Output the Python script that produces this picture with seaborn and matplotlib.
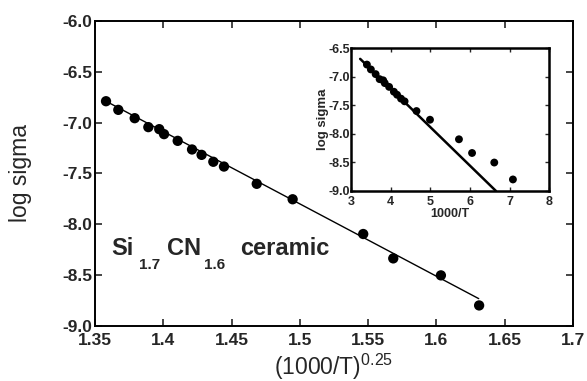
import pandas as pd
import matplotlib
matplotlib.use('Agg')
import matplotlib.pyplot as plt
import seaborn as sns

# values
x_main = [1.358, 1.367, 1.379, 1.389, 1.397, 1.4005, 1.4105, 1.421, 1.428, 1.4366,
          1.4444, 1.4684, 1.4947, 1.5464, 1.5684, 1.6033, 1.6313]
log_sigma = [-6.79, -6.875, -6.957, -7.045, -7.065, -7.114, -7.18, -7.265, -7.318,
             -7.386, -7.433, -7.603, -7.755, -8.097, -8.337, -8.504, -8.80]
fit_main_x = [1.358, 1.631]
fit_main_y = [-6.79, -8.733]

x_inset = [3.40, 3.50, 3.62, 3.72, 3.81, 3.85, 3.96, 4.08, 4.16, 4.26,
           4.35, 4.65, 4.99, 5.72, 6.05, 6.61, 7.08]
fit_inset_x = [3.23, 6.65]
fit_inset_y = [-6.69, -9.0]

main_xticks = [1.35, 1.4, 1.45, 1.5, 1.55, 1.6, 1.65, 1.7]
main_xlabels = ['1.35', '1.4', '1.45', '1.5', '1.55', '1.6', '1.65', '1.7']
main_yticks = [-6.0, -6.5, -7.0, -7.5, -8.0, -8.5, -9.0]
inset_xticks = [3, 4, 5, 6, 7, 8]
inset_yticks = [-6.5, -7.0, -7.5, -8.0, -8.5, -9.0]

df = pd.DataFrame({'x': x_main, 'y': log_sigma, 'xi': x_inset})
fit_m = pd.DataFrame({'x': fit_main_x, 'y': fit_main_y})
fit_i = pd.DataFrame({'x': fit_inset_x, 'y': fit_inset_y})

sns.set_style('ticks')
plt.rcParams['font.family'] = ['Liberation Sans', 'DejaVu Sans']
plt.rcParams['mathtext.fontset'] = 'custom'
plt.rcParams['mathtext.rm'] = 'Liberation Sans'

fig = plt.figure(figsize=(5.87, 3.81), dpi=100)
ax = fig.add_axes([0.162, 0.145, 0.814, 0.80])

sns.lineplot(data=fit_m, x='x', y='y', ax=ax, color='black', lw=1.0)
sns.scatterplot(data=df, x='x', y='y', ax=ax, color='black', s=55, edgecolor='none')

ax.set_xlim(1.35, 1.7)
ax.set_ylim(-9.0, -6.0)
ax.set_xticks(main_xticks)
ax.set_xticklabels(main_xlabels)
ax.set_yticks(main_yticks)
ax.set_yticklabels([f'{v:.1f}' for v in main_yticks])
ax.tick_params(direction='in', top=True, right=True, length=5, width=1.2,
               labelsize=12.5)
ax.tick_params(axis='x', pad=5)
ax.tick_params(axis='y', pad=2)
for lab in ax.get_xticklabels() + ax.get_yticklabels():
    lab.set_fontweight('bold')
for sp in ax.spines.values():
    sp.set_linewidth(1.4)
    sp.set_color('black')
ax.set_xlabel(r'(1000/T)$^{\mathrm{0.25}}$', fontsize=16.5, labelpad=3)
ax.set_ylabel('log sigma', fontsize=16.5, labelpad=22)

# compound label
ax.text(1.3622, -8.30, 'Si', fontsize=17, fontweight='bold', va='baseline')
ax.text(1.3824, -8.44, '1.7', fontsize=11, fontweight='bold', va='baseline')
ax.text(1.4025, -8.30, 'CN', fontsize=17, fontweight='bold', va='baseline')
ax.text(1.4298, -8.44, '1.6', fontsize=11, fontweight='bold', va='baseline')
ax.text(1.4561, -8.30, 'ceramic', fontsize=17, fontweight='bold', va='baseline')

# inset
ins = fig.add_axes([0.598, 0.499, 0.338, 0.375])
sns.lineplot(data=fit_i, x='x', y='y', ax=ins, color='black', lw=1.8)
sns.scatterplot(data=df, x='xi', y='y', ax=ins, color='black', s=32, edgecolor='none')
ins.set_xlim(3, 8)
ins.set_ylim(-9.0, -6.5)
ins.set_xticks(inset_xticks)
ins.set_yticks(inset_yticks)
ins.set_yticklabels([f'{v:.1f}' for v in inset_yticks])
ins.tick_params(direction='in', top=True, right=True, length=3, width=1.0,
                labelsize=9)
ins.tick_params(axis='x', pad=4)
ins.tick_params(axis='y', pad=0.5)
for lab in ins.get_xticklabels() + ins.get_yticklabels():
    lab.set_fontweight('bold')
for sp in ins.spines.values():
    sp.set_linewidth(1.8)
    sp.set_color('black')
ins.set_xlabel('1000/T', fontsize=9, fontweight='bold', labelpad=0)
ins.set_ylabel('log sigma', fontsize=9.5, fontweight='bold', labelpad=0)

fig.savefig('out.png', dpi=100)
